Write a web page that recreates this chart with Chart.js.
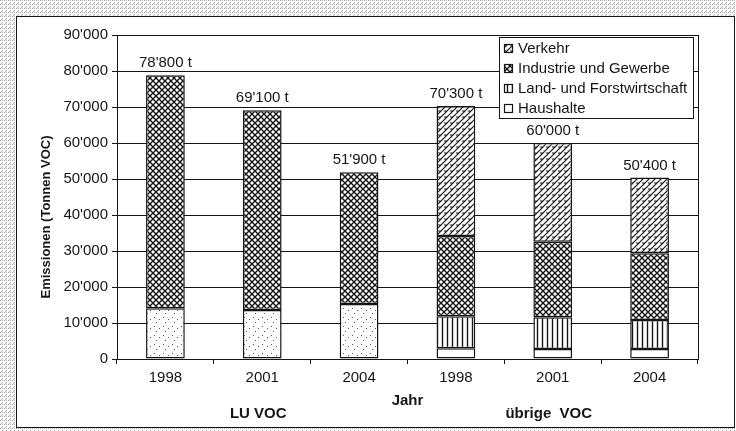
<!DOCTYPE html>
<html>
<head>
<meta charset="utf-8">
<script src="https://cdn.jsdelivr.net/npm/chart.js@4/dist/chart.umd.min.js"></script>
<style>
  html, body { margin: 0; padding: 0; background: #fff; }
  #wrap { width: 736px; height: 431px; }
</style>
</head>
<body>
<div id="wrap"><canvas id="vocChart" width="736" height="431"></canvas></div>
<script>
// Daten
const jahre = ["1998", "2001", "2004", "1998", "2001", "2004"];
const gruppen = ["LU VOC", "übrige  VOC"];
const gruppenIndex = [1, 4];
const haushalte = [14100, 13600, 15300, 3000, 2800, 2800];
const landForst = [null, null, null, 8900, 8800, 8000];
const industrie = [64700, 55500, 36600, 22300, 21000, 18600];
const verkehr = [null, null, null, 36100, 27400, 21000];
const yMax = 90000;
const yStep = 10000;

const INK = "#151515";

function formatZahl(v) {
    return String(v).replace(/\B(?=(\d{3})+(?!\d))/g, "'");
}

// Muster fuer die Balken
function muster(size, draw) {
    const c = document.createElement("canvas");
    c.width = size;
    c.height = size;
    const g = c.getContext("2d");
    g.fillStyle = "#fff";
    g.fillRect(0, 0, size, size);
    g.strokeStyle = INK;
    g.fillStyle = INK;
    draw(g, size);
    return g.createPattern(c, "repeat");
}

const kreuz = muster(6, function (g, s) {
    g.lineWidth = 1.4;
    g.beginPath();
    g.moveTo(0, 0); g.lineTo(s, s);
    g.moveTo(0, s); g.lineTo(s, 0);
    g.stroke();
});
const schraeg = muster(6, function (g, s) {
    g.lineWidth = 1.2;
    g.beginPath();
    g.moveTo(-1, s + 1); g.lineTo(s + 1, -1);
    g.moveTo(-1, 1); g.lineTo(1, -1);
    g.moveTo(s - 1, s + 1); g.lineTo(s + 1, s - 1);
    g.moveTo(0, 3); g.lineTo(3, 3);
    g.stroke();
});
const senkrecht = muster(5, function (g, s) {
    g.lineWidth = 1.4;
    g.beginPath();
    g.moveTo(2.5, 0); g.lineTo(2.5, s);
    g.stroke();
});
const punkte = muster(9, function (g, s) {
    g.fillStyle = "#555";
    g.fillRect(1, 2, 1, 1);
    g.fillRect(6, 4, 1, 1);
    g.fillRect(3, 7, 1, 1);
});
const rand = muster(4, function (g, s) {
    g.fillStyle = "#999";
    g.fillRect(0, 0, 1, 1);
    g.fillRect(2, 2, 1, 1);
    g.fillStyle = "#bbb";
    g.fillRect(2, 0, 1, 1);
    g.fillRect(1, 3, 1, 1);
});

// Rahmen, Legende, Summen und Gruppentitel
const zeichnenPlugin = {
    id: "zeichnen",
    beforeDraw(chart) {
        const ctx = chart.ctx;
        ctx.save();
        ctx.fillStyle = rand;
        ctx.fillRect(0, 0, chart.width, chart.height);
        ctx.fillStyle = "#fff";
        ctx.fillRect(16, 16, 719, 412);
        ctx.strokeStyle = INK;
        ctx.lineWidth = 1;
        ctx.strokeRect(16.5, 16.5, 718, 411);
        ctx.restore();
    },
    afterDatasetsDraw(chart) {
        const ctx = chart.ctx;
        const area = chart.chartArea;
        const xs = chart.scales.x;
        const ys = chart.scales.y;
        ctx.save();

        // rechter Rand der Zeichenflaeche
        ctx.strokeStyle = INK;
        ctx.lineWidth = 1;
        ctx.beginPath();
        ctx.moveTo(Math.round(area.right) + 0.5, area.top);
        ctx.lineTo(Math.round(area.right) + 0.5, area.bottom);
        ctx.stroke();

        // Summen ueber den Balken
        ctx.fillStyle = INK;
        ctx.font = "15px 'Liberation Sans', Arial, sans-serif";
        ctx.textAlign = "center";
        ctx.textBaseline = "middle";
        jahre.forEach(function (j, i) {
            let total = 0;
            chart.data.datasets.forEach(function (ds) { total += ds.data[i] || 0; });
            ctx.fillText(formatZahl(total) + " t", xs.getPixelForValue(i), ys.getPixelForValue(total) - 12);
        });

        // Gruppentitel unter der Achse
        ctx.font = "bold 15px 'Liberation Sans', Arial, sans-serif";
        gruppen.forEach(function (g, k) {
            ctx.fillText(g, xs.getPixelForValue(gruppenIndex[k]) - 4, 414);
        });

        // Y-Achsentitel
        ctx.save();
        ctx.translate(46, 217);
        ctx.rotate(-Math.PI / 2);
        ctx.font = "bold 13px 'Liberation Sans', Arial, sans-serif";
        ctx.fillText("Emissionen (Tonnen VOC)", 0, 0);
        ctx.restore();

        // Legende
        const lx = 499, ly = 37, lw = 194, lh = 81;
        ctx.fillStyle = "#fff";
        ctx.fillRect(lx, ly, lw, lh);
        ctx.strokeStyle = INK;
        ctx.strokeRect(lx + 0.5, ly + 0.5, lw, lh);
        ctx.font = "15px 'Liberation Sans', Arial, sans-serif";
        ctx.textAlign = "left";
        const items = chart.data.datasets.slice().reverse();
        items.forEach(function (ds, k) {
            const cy = ly + 11 + k * 20;
            const fill = Array.isArray(ds.backgroundColor) ? ds.backgroundColor[ds.backgroundColor.length - 1] : ds.backgroundColor;
            ctx.fillStyle = fill;
            ctx.fillRect(504, cy - 4, 9, 9);
            ctx.strokeStyle = INK;
            ctx.lineWidth = 1.2;
            ctx.strokeRect(504.5, cy - 3.5, 8, 8);
            ctx.fillStyle = INK;
            ctx.fillText(ds.label, 518, cy + 1);
        });
        ctx.restore();
    }
};

const balkenStil = {
    borderColor: INK,
    borderWidth: 1.5,
    borderSkipped: false,
    categoryPercentage: 1,
    barPercentage: 0.4,
};

new Chart(document.getElementById("vocChart"), {
    type: "bar",
    data: {
        labels: jahre,
        datasets: [
            Object.assign({ label: "Haushalte", data: haushalte,
                backgroundColor: [punkte, punkte, punkte, "#fff", "#fff", "#fff"] }, balkenStil),
            Object.assign({ label: "Land- und Forstwirtschaft", data: landForst,
                backgroundColor: senkrecht }, balkenStil),
            Object.assign({ label: "Industrie und Gewerbe", data: industrie,
                backgroundColor: kreuz }, balkenStil),
            Object.assign({ label: "Verkehr", data: verkehr,
                backgroundColor: schraeg }, balkenStil),
        ],
    },
    options: {
        responsive: false,
        animation: false,
        devicePixelRatio: 1,
        layout: { padding: { left: 0, right: 38, top: 35, bottom: 21 } },
        plugins: {
            legend: { display: false },
            tooltip: { enabled: false },
        },
        scales: {
            x: {
                stacked: true,
                grid: { drawOnChartArea: false, drawTicks: true, tickLength: 5, color: INK, offset: true },
                border: { display: true, color: INK },
                ticks: { color: INK, padding: 5, font: { size: 15, family: "'Liberation Sans', Arial, sans-serif" } },
                title: { display: true, text: "Jahr", color: INK, padding: { top: 4, bottom: 0 },
                    font: { size: 15, weight: "bold", family: "'Liberation Sans', Arial, sans-serif" } },
                afterFit(scale) { scale.height = 51; },
            },
            y: {
                stacked: true,
                min: 0,
                max: yMax,
                grid: { color: INK, lineWidth: 1, drawTicks: true, tickLength: 5 },
                border: { display: true, color: INK },
                ticks: {
                    stepSize: yStep,
                    color: INK,
                    padding: 4,
                    font: { size: 15, family: "'Liberation Sans', Arial, sans-serif" },
                    callback: function (v) { return formatZahl(v); },
                },
                afterFit(scale) { scale.width = 117; },
            },
        },
    },
    plugins: [zeichnenPlugin],
});
</script>
</body>
</html>
